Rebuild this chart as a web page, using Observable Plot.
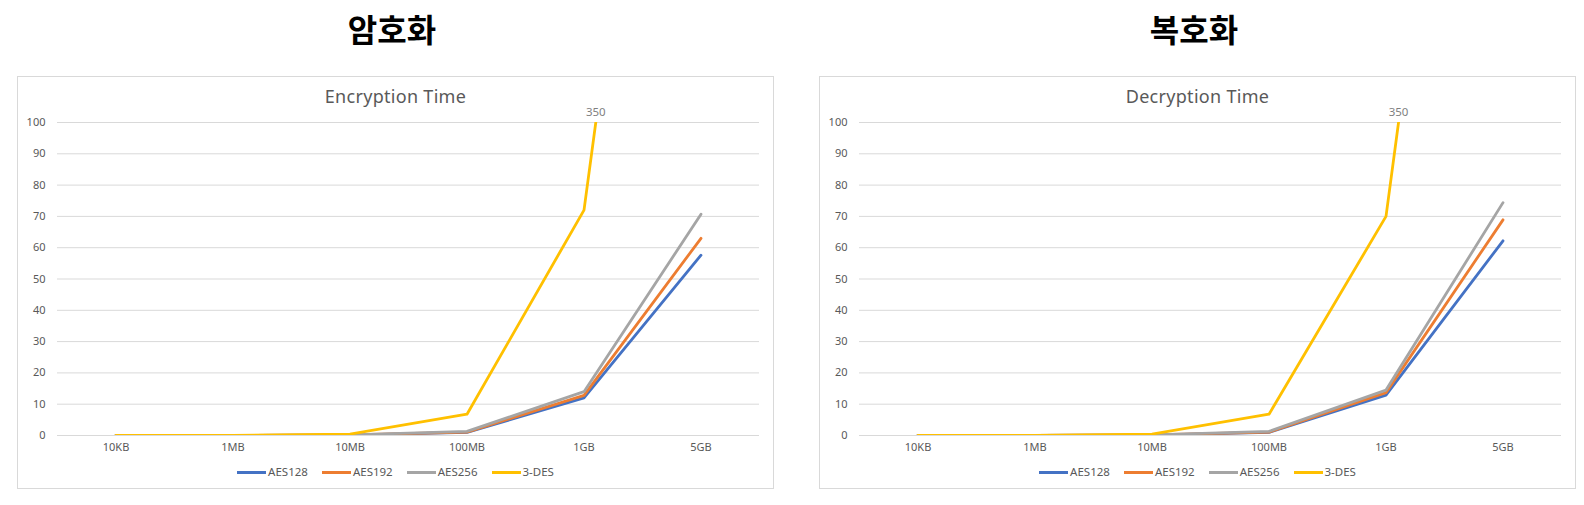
<!DOCTYPE html>
<html><head><meta charset="utf-8">
<script src="https://cdn.jsdelivr.net/npm/d3@7"></script>
<script src="https://cdn.jsdelivr.net/npm/@observablehq/plot@0.6"></script>
<style>
body{margin:0;background:#fff;}
#root{position:relative;width:1584px;height:505px;font-family:"Noto Sans",sans-serif;overflow:hidden}
.ktitle{position:absolute;top:6px;font-family:"Noto Sans CJK KR",sans-serif;font-weight:bold;font-size:32px;text-align:center;width:400px;line-height:44px;color:#000}
.box{position:absolute;top:76px;width:757px;height:413px;border:1px solid #d9d9d9;box-sizing:border-box}
.ctitle{position:absolute;top:7px;left:0;right:0;text-align:center;color:#595959;font-size:18px;line-height:24px;letter-spacing:0.3px}
.plot{position:absolute;left:0;top:27px}
.legend{position:absolute;top:388px;left:0;right:0;display:flex;justify-content:center;align-items:center;font-size:11.5px;color:#595959;line-height:14px}
.item{display:flex;align-items:center;margin:0 7px}
.sw{width:29px;height:3px;margin-right:2px}
</style></head>
<body><div id="root"></div>
<script>
const sizes = ["10KB","1MB","10MB","100MB","1GB","5GB"];
const seriesNames = ["AES128","AES192","AES256","3-DES"];
const seriesColors = ["#4472C4","#ED7D31","#A5A5A5","#FFC000"];
const yTicks = [0,10,20,30,40,50,60,70,80,90,100];

const encAES128 = [0, 0.01, 0.15, 1.0, 12.0, 57.6];
const encAES192 = [0, 0.01, 0.17, 1.1, 12.8, 63.0];
const encAES256 = [0, 0.01, 0.2, 1.3, 14.0, 70.7];
const enc3DES   = [0, 0.03, 0.45, 6.8, 72.0, 350];

const decAES128 = [0, 0.01, 0.15, 1.0, 12.9, 62.2];
const decAES192 = [0, 0.01, 0.17, 1.1, 13.7, 68.9];
const decAES256 = [0, 0.01, 0.2, 1.3, 14.5, 74.4];
const dec3DES   = [0, 0.03, 0.45, 6.8, 70.0, 350];

const yMax = 100;
const root = document.getElementById("root");

function panel(left, kTitle, cTitle, values) {
  const k = document.createElement("div");
  k.className = "ktitle";
  k.style.left = (left + 378 - 200 - 3) + "px";
  k.textContent = kTitle;
  root.appendChild(k);

  const box = document.createElement("div");
  box.className = "box";
  box.style.left = left + "px";
  root.appendChild(box);

  const t = document.createElement("div");
  t.className = "ctitle";
  t.textContent = cTitle;
  box.appendChild(t);

  const data = [];
  values.forEach((arr, si) => arr.forEach((v, i) => data.push({series: seriesNames[si], i, v})));

  // label of the off-scale point, placed where the line leaves the frame
  const labels = [];
  values.forEach((arr, si) => arr.forEach((v, i) => {
    if (v > yMax && i > 0 && arr[i-1] <= yMax) {
      labels.push({x: (i - 1) + (yMax - arr[i-1]) / (v - arr[i-1]), y: yMax, text: String(v)});
    }
  }));

  const chart = Plot.plot({
    width: 755, height: 354,
    marginLeft: 39, marginRight: 14, marginTop: 18, marginBottom: 23,
    style: {fontFamily: '"Noto Sans", sans-serif', fontSize: "11px", color: "#595959", background: "transparent"},
    x: {domain: [-0.5, sizes.length - 0.5]},
    y: {domain: [0, yMax]},
    color: {domain: seriesNames, range: seriesColors},
    marks: [
      Plot.gridY(yTicks, {stroke: "#d9d9d9", strokeOpacity: 1, strokeWidth: 1}),
      Plot.axisY(yTicks, {tickSize: 0, tickPadding: 12, label: null, fill: "#595959", fontSize: 11}),
      Plot.axisX(d3.range(sizes.length), {tickSize: 0, tickPadding: 8, tickFormat: i => sizes[i], label: null, fill: "#595959", fontSize: 11}),
      Plot.line(data, {x: "i", y: "v", z: "series", stroke: "series", strokeWidth: 2.8, clip: true, strokeLinejoin: "round"}),
      Plot.text(labels, {x: "x", y: "y", text: "text", dy: -10, fill: "#7f7f7f", fontSize: 11.5})
    ]
  });
  chart.classList.add("plot");
  box.appendChild(chart);

  const lg = document.createElement("div");
  lg.className = "legend";
  seriesNames.forEach((s, si) => {
    const it = document.createElement("div");
    it.className = "item";
    const sw = document.createElement("div");
    sw.className = "sw";
    sw.style.background = seriesColors[si];
    const tx = document.createElement("span");
    tx.textContent = s;
    it.appendChild(sw); it.appendChild(tx);
    lg.appendChild(it);
  });
  box.appendChild(lg);
}

panel(17, "암호화", "Encryption Time", [encAES128, encAES192, encAES256, enc3DES]);
panel(819, "복호화", "Decryption Time", [decAES128, decAES192, decAES256, dec3DES]);
</script>
</body></html>
